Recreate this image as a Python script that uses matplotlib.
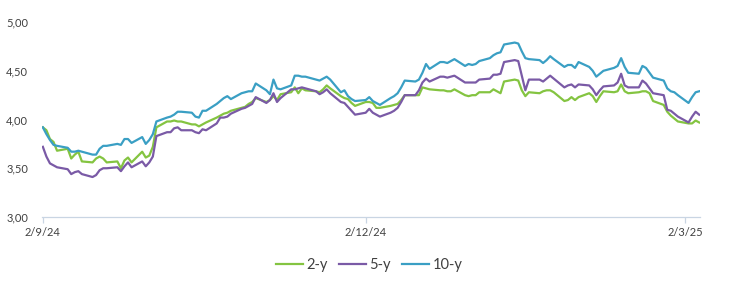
import numpy as np
import pandas as pd
import matplotlib
matplotlib.use("Agg")
import matplotlib.pyplot as plt
import matplotlib.dates as mdates
from matplotlib.ticker import FuncFormatter

# business days, 2 Sep 2024 .. 6 Mar 2025
dates = pd.bdate_range("2024-09-02", "2025-03-06")

y2 = [3.92, 3.89, 3.80, 3.77, 3.68,
      3.70, 3.60, 3.64, 3.67, 3.57,
      3.56, 3.60, 3.62, 3.60, 3.56,
      3.57, 3.50, 3.58, 3.61, 3.56,
      3.67, 3.61, 3.63, 3.72, 3.92,
      3.98, 3.98, 3.99, 3.98, 3.98,
      3.95, 3.95, 3.93, 3.95, 3.97,
      4.02, 4.04, 4.06, 4.07, 4.09,
      4.12, 4.13, 4.16, 4.18, 4.22,
      4.18, 4.20, 4.24, 4.20, 4.26,
      4.28, 4.33, 4.27, 4.32, 4.30,
      4.29, 4.28, 4.31, 4.35, 4.32,
      4.24, 4.22, 4.21, 4.17, 4.14,
      4.18, 4.18, 4.17, 4.12, 4.12,
      4.14, 4.15, 4.16, 4.20, 4.25,
      4.25, 4.25, 4.33, 4.32, 4.31,
      4.30, 4.30, 4.29, 4.29, 4.31,
      4.25, 4.24, 4.25, 4.25, 4.28,
      4.28, 4.31, 4.29, 4.27, 4.39,
      4.41, 4.40, 4.30, 4.24, 4.28,
      4.27, 4.29, 4.30, 4.30, 4.28,
      4.19, 4.20, 4.23, 4.20, 4.23,
      4.27, 4.24, 4.18, 4.24, 4.29,
      4.28, 4.29, 4.36, 4.29, 4.27,
      4.28, 4.29, 4.29, 4.27, 4.19,
      4.15, 4.08, 4.04, 4.01, 3.98,
      3.96, 3.96, 3.99, 3.97]

y5 = [3.72, 3.62, 3.55, 3.53, 3.51,
      3.49, 3.44, 3.46, 3.47, 3.44,
      3.41, 3.43, 3.48, 3.50, 3.50,
      3.51, 3.47, 3.52, 3.56, 3.51,
      3.57, 3.52, 3.56, 3.62, 3.83,
      3.87, 3.87, 3.91, 3.92, 3.89,
      3.89, 3.87, 3.86, 3.90, 3.89,
      3.96, 4.02, 4.02, 4.03, 4.06,
      4.11, 4.12, 4.14, 4.16, 4.23,
      4.17, 4.20, 4.27, 4.18, 4.22,
      4.31, 4.31, 4.32, 4.33, 4.32,
      4.29, 4.26, 4.28, 4.31, 4.27,
      4.18, 4.17, 4.13, 4.09, 4.05,
      4.07, 4.11, 4.07, 4.05, 4.03,
      4.07, 4.09, 4.12, 4.18, 4.25,
      4.25, 4.30, 4.38, 4.42, 4.39,
      4.44, 4.44, 4.43, 4.44, 4.45,
      4.38, 4.38, 4.38, 4.38, 4.41,
      4.42, 4.46, 4.46, 4.47, 4.59,
      4.61, 4.60, 4.45, 4.30, 4.41,
      4.41, 4.39, 4.42, 4.45, 4.42,
      4.33, 4.35, 4.36, 4.33, 4.36,
      4.35, 4.31, 4.25, 4.30, 4.34,
      4.35, 4.38, 4.47, 4.35, 4.33,
      4.33, 4.40, 4.37, 4.32, 4.27,
      4.25, 4.10, 4.09, 4.06, 4.03,
      3.97, 4.03, 4.08, 4.05]

y10 = [3.92, 3.85, 3.79, 3.74, 3.73,
       3.71, 3.67, 3.67, 3.68, 3.67,
       3.64, 3.64, 3.70, 3.73, 3.73,
       3.75, 3.74, 3.80, 3.80, 3.76,
       3.82, 3.75, 3.79, 3.85, 3.98,
       4.02, 4.03, 4.05, 4.08, 4.08,
       4.07, 4.03, 4.02, 4.09, 4.09,
       4.16, 4.19, 4.22, 4.24, 4.21,
       4.27, 4.28, 4.29, 4.29, 4.37,
       4.30, 4.26, 4.41, 4.32, 4.31,
       4.35, 4.45, 4.45, 4.44, 4.44,
       4.41, 4.40, 4.42, 4.44, 4.41,
       4.28, 4.30, 4.24, 4.21, 4.19,
       4.20, 4.23, 4.19, 4.17, 4.15,
       4.22, 4.24, 4.27, 4.33, 4.40,
       4.39, 4.41, 4.48, 4.57, 4.52,
       4.59, 4.59, 4.58, 4.60, 4.62,
       4.55, 4.57, 4.56, 4.57, 4.60,
       4.63, 4.66, 4.68, 4.69, 4.77,
       4.79, 4.78, 4.70, 4.63, 4.62,
       4.61, 4.58, 4.61, 4.65, 4.62,
       4.54, 4.56, 4.56, 4.53, 4.59,
       4.54, 4.50, 4.44, 4.47, 4.50,
       4.53, 4.55, 4.63, 4.54, 4.48,
       4.47, 4.55, 4.53, 4.48, 4.43,
       4.40, 4.32, 4.29, 4.28, 4.25,
       4.17, 4.23, 4.28, 4.29]

tick_dates = pd.to_datetime(["2024-09-02", "2024-12-02", "2025-03-02"])
tick_labels = ["2/9/24", "2/12/24", "2/3/25"]

plt.rcParams['font.family'] = ['Lato', 'DejaVu Sans']
text_col = '#404040'
axis_col = '#c9d5e3'

fig = plt.figure(figsize=(7.3, 2.87), dpi=100)
ax = fig.add_axes([0.0575, 0.244, 0.9015, 0.679])

ax.plot(dates, y2, color='#84c441', lw=1.6, label='2-y')
ax.plot(dates, y5, color='#7a5aa6', lw=1.6, label='5-y')
ax.plot(dates, y10, color='#3a9fc4', lw=1.6, label='10-y')

ax.set_ylim(3.0, 5.0)
ax.set_yticks([3.0, 3.5, 4.0, 4.5, 5.0])
ax.yaxis.set_major_formatter(FuncFormatter(lambda v, p: f"{v:.2f}".replace('.', ',')))
ax.set_xlim(pd.Timestamp("2024-09-01 18:00"), pd.Timestamp("2025-03-06 06:00"))
ax.set_xticks(tick_dates)
ax.set_xticklabels(tick_labels)

for s in ['top', 'right', 'left']:
    ax.spines[s].set_visible(False)
ax.spines['bottom'].set_color(axis_col)
ax.spines['bottom'].set_linewidth(0.9)
ax.tick_params(axis='y', length=0, pad=10, labelsize=8, labelcolor=text_col)
ax.tick_params(axis='x', length=4, width=0.9, color=axis_col, pad=3,
               labelsize=8, labelcolor=text_col)

leg = fig.legend(loc='center', bbox_to_anchor=(0.506, 0.077), ncol=3,
                 frameon=False, fontsize=10.5, handlelength=1.8,
                 handletextpad=0.25, columnspacing=0.8)
for t in leg.get_texts():
    t.set_color(text_col)

fig.savefig("out.png", dpi=100)
